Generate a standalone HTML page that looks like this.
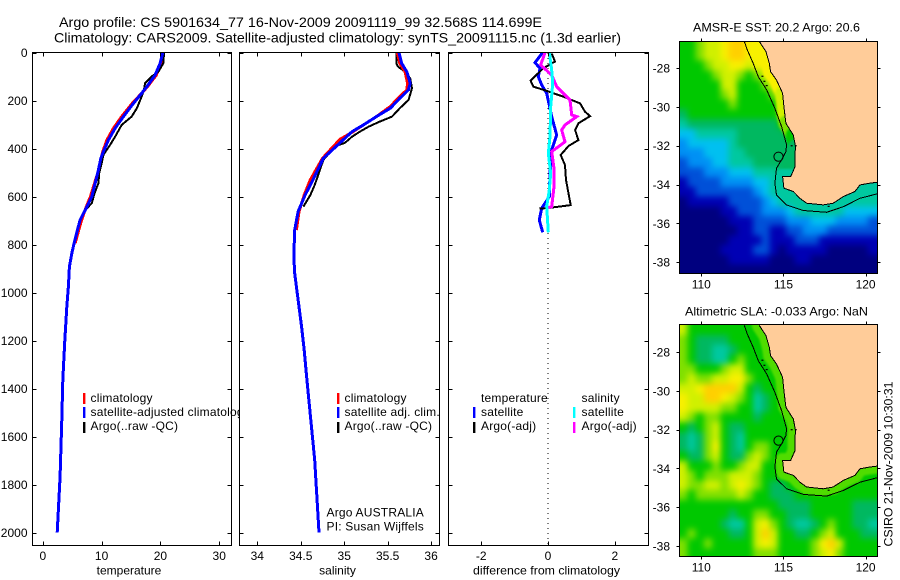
<!DOCTYPE html>
<html lang="en">
<head>
<meta charset="utf-8">
<title>Argo profile CS 5901634_77</title>
<style>
html,body{margin:0;padding:0;background:#fff;}
svg{display:block;}
text{font-family:"Liberation Sans",sans-serif;font-size:12px;fill:#000;}
.legend text{letter-spacing:0.2px;}
</style>
</head>
<body>
<svg id="figure" xmlns="http://www.w3.org/2000/svg" width="900" height="580" viewBox="0 0 900 580">
  <defs>
    <clipPath id="clip-p1"><rect x="32" y="52" width="207" height="493"/></clipPath>
    <clipPath id="clip-m1"><rect x="679.5" y="41.5" width="198" height="232"/></clipPath>
    <clipPath id="clip-m2"><rect x="679.5" y="324.5" width="198" height="232"/></clipPath>
    <filter id="field-smooth" filterUnits="userSpaceOnUse" x="640" y="0" width="260" height="580" color-interpolation-filters="sRGB"><feGaussianBlur stdDeviation="3.2"/></filter>
    <filter id="band-smooth" filterUnits="userSpaceOnUse" x="640" y="0" width="260" height="580" color-interpolation-filters="sRGB"><feGaussianBlur stdDeviation="1"/></filter>
  </defs>
  <text x="59" y="27" style="font-size:14px" textLength="483" lengthAdjust="spacingAndGlyphs">Argo profile: CS 5901634_77 16-Nov-2009 20091119_99 32.568S 114.699E</text>
  <text x="54" y="42.5" style="font-size:14px" textLength="567" lengthAdjust="spacingAndGlyphs">Climatology: CARS2009. Satellite-adjusted climatology: synTS_20091115.nc (1.3d earlier)</text>

  <g id="map-layer"></g>
  <g id="mark-layer"></g>
  <g id="axis-layer"></g>

  <g class="legend" clip-path="url(#clip-p1)">
    <rect x="83" y="393" width="2.4" height="11" fill="#ff0000"/>
    <rect x="83" y="407" width="2.4" height="11" fill="#0000ff"/>
    <rect x="83" y="422" width="2.4" height="11" fill="#000000"/>
    <text x="90.5" y="402">climatology</text>
    <text x="90.5" y="416">satellite-adjusted climatology</text>
    <text x="90.5" y="430">Argo(..raw -QC)</text>
  </g>
  <g class="legend">
    <rect x="337" y="393" width="2.4" height="11" fill="#ff0000"/>
    <rect x="337" y="407" width="2.4" height="11" fill="#0000ff"/>
    <rect x="337" y="422" width="2.4" height="11" fill="#000000"/>
    <text x="344.5" y="402">climatology</text>
    <text x="344.5" y="416">satellite adj. clim.</text>
    <text x="344.5" y="430">Argo(..raw -QC)</text>
    <text x="326.5" y="516.5">Argo AUSTRALIA</text>
    <text x="326.5" y="530.5">PI: Susan Wijffels</text>
  </g>
  <g class="legend">
    <text x="481" y="402">temperature</text>
    <rect x="473" y="407" width="2.4" height="11" fill="#0000ff"/>
    <rect x="473" y="422" width="2.4" height="11" fill="#000000"/>
    <text x="481" y="416">satellite</text>
    <text x="481" y="430">Argo(-adj)</text>
    <text x="581.5" y="402">salinity</text>
    <rect x="573" y="407" width="2.4" height="11" fill="#00ffff"/>
    <rect x="573" y="422" width="2.4" height="11" fill="#ff00ff"/>
    <text x="581.5" y="416">satellite</text>
    <text x="581.5" y="430">Argo(-adj)</text>
  </g>

  <text x="129" y="574.5" text-anchor="middle">temperature</text>
  <text x="337.5" y="574.5" text-anchor="middle">salinity</text>
  <text x="473" y="574.5" textLength="147" lengthAdjust="spacingAndGlyphs">difference from climatology</text>
  <text x="693" y="31.5" textLength="167" lengthAdjust="spacingAndGlyphs">AMSR-E SST: 20.2  Argo: 20.6</text>
  <text x="685" y="315.5" textLength="183" lengthAdjust="spacingAndGlyphs">Altimetric SLA: -0.033  Argo: NaN</text>
  <text transform="translate(892.5,546.5) rotate(-90)" textLength="165" lengthAdjust="spacingAndGlyphs">CSIRO 21-Nov-2009 10:30:31</text>
</svg>

<script>
/* ---------- profile data ---------- */
const tempClimDepth = [0,45,94,142,170,212,267,316,365,413,441,490,545,601,649,698,740,795];
const tempClimValue = [20.5,20.1,19.3,17.8,16.8,15.2,13.4,12.0,10.9,10.2,9.9,9.5,8.8,8.1,7.3,6.6,6.1,5.5];
const tempSatDepth = [0,45,94,142,170,212,267,316,365,413,441,490,545,601,649,698,740,795,837,892,975,1059,1200,1365,1530,1765,2000];
const tempSatValue = [20.4,19.95,19.1,17.7,16.8,15.4,13.7,12.3,11.16,10.3,9.86,9.46,8.9,8.33,7.36,6.34,5.89,5.32,4.93,4.53,4.36,4.08,3.75,3.4,3.23,2.94,2.45];
const tempArgoDepth = [0,45,80,100,128,156,184,232,267,302,351,385,427,462,503,545,587,628,649];
const tempArgoValue = [20.63,20.5,19.66,18.5,17.4,17.2,16.8,16,15.1,13.4,12.3,11.45,10.3,10,9.6,9.46,8.8,8.33,7.5];

const salClimDepth = [0,45,80,128,156,191,225,267,302,337,362,441,531,594,663,740];
const salClimValue = [35.61,35.64,35.70,35.73,35.72,35.62,35.53,35.37,35.22,35.07,34.95,34.75,34.61,34.54,34.48,34.45];
const salSatDepth = [0,45,80,128,156,191,232,267,302,330,441,531,594,663,740,851,920,976,1059,1143,1240,1323,1398,1698,2000];
const salSatValue = [35.63,35.66,35.72,35.76,35.74,35.64,35.53,35.37,35.22,35.09,34.76,34.64,34.55,34.47,34.43,34.42,34.43,34.45,34.48,34.51,34.54,34.56,34.58,34.66,34.71];
const salArgoDepth = [0,45,59,80,108,149,198,232,267,288,309,330,351,376,392,448,490,552,594,642];
const salArgoValue = [35.60,35.60,35.62,35.70,35.76,35.78,35.74,35.64,35.55,35.41,35.28,35.18,35.09,35.01,34.89,34.76,34.72,34.66,34.61,34.53];

const diffTempSatDepth = [0,42,66,101,135,170,219,267,344,406,503,601,649,698,749];
const diffTempSatValue = [-0.16,-0.39,-0.24,-0.29,-0.19,-0.04,0.04,0.11,0.26,0.11,0.06,0.04,-0.19,-0.26,-0.16];
const diffTempArgoDepth = [4,38,66,117,142,160,184,212,247,265,295,323,365,390,427,469,531,636,647,651];
const diffTempArgoValue = [0.11,0.21,-0.14,-0.52,-0.44,-0.04,0.46,0.96,1.11,1.26,0.91,0.81,0.91,0.61,0.38,0.51,0.54,0.68,0.06,-0.26];
const diffSalSatDepth = [0,73,129,226,351,420,503,573,642,749];
const diffSalSatValue = [0.04,0.11,0.14,0.08,0.06,0.01,0.08,0.04,-0.04,0.01];
const diffSalArgoDepth = [0,52,94,142,198,260,267,302,323,372,413,483,559,642,649];
const diffSalArgoValue = [-0.09,-0.22,0.11,0.26,0.66,0.71,0.86,0.51,0.41,0.51,0.11,0.18,0.18,0.11,-0.04];

/* ---------- tick labels ---------- */
const depthTicks = [0,200,400,600,800,1000,1200,1400,1600,1800,2000];
const tempTicks = [0,10,20,30];
const salTicks = [34,34.5,35,35.5,36];
const diffTicks = [-2,0,2];
const lonTicks = [110,115,120];
const latTicks = [28,30,32,34,36,38];

/* ---------- map data: colour level per 0.5 degree cell, north to south ---------- */
const sstLevels = [
[7,7,8,9,9,10,11,11,10,10,10,10,10,10,10,10,10,10,10,10,10,10,10,10],
[7,7,8,9,9,10,11,11,10,10,10,10,10,10,10,10,10,10,10,10,10,10,10,10],
[7,7,7,8,9,9,10,10,9,10,10,9,9,9,9,9,9,9,9,9,9,9,9,9],
[7,7,7,7,8,9,9,8,7,8,9,10,10,10,10,10,10,10,10,10,10,10,10,10],
[7,7,7,7,7,9,9,7,7,7,8,9,9,9,9,9,9,9,9,9,9,9,9,9],
[7,7,7,7,7,8,9,7,7,7,7,8,9,9,9,9,9,9,9,9,9,9,9,9],
[7,7,7,7,7,7,8,7,7,7,7,7,8,9,9,9,9,9,9,9,9,9,9,9],
[6,7,7,7,7,7,7,7,7,7,7,7,8,9,9,9,9,9,9,9,9,9,9,9],
[5,6,6,6,6,6,6,6,6,6,6,6,7,8,8,8,8,8,8,8,8,8,8,8],
[4,4,5,5,5,5,5,6,6,6,6,6,6,7,7,7,7,7,7,7,7,7,7,7],
[3,4,4,4,4,4,5,6,6,6,6,6,6,6,7,7,7,7,7,7,7,7,7,7],
[3,3,3,4,4,4,5,5,6,6,6,6,6,6,6,6,6,6,6,6,6,6,6,6],
[2,3,3,3,4,4,5,5,5,6,6,6,6,6,5,5,5,5,5,5,5,5,5,5],
[2,2,2,3,3,3,4,4,4,5,5,5,6,6,6,6,6,6,6,6,6,6,6,6],
[1,2,2,2,2,3,3,3,3,4,4,5,5,5,5,5,5,5,5,5,5,5,5,5],
[1,1,2,2,2,2,2,2,2,3,4,5,5,5,5,5,5,5,5,5,5,5,5,5],
[0,1,1,1,1,1,2,2,2,2,3,4,5,5,5,5,5,5,5,5,5,5,5,5],
[0,0,0,0,0,1,1,2,2,2,3,3,3,4,5,5,5,5,5,5,4,4,4,4],
[0,0,0,0,0,0,1,1,1,2,2,2,2,3,3,3,4,4,4,3,3,3,3,2],
[0,0,0,0,0,0,0,1,1,2,2,1,1,2,2,3,3,3,2,2,2,2,2,2],
[0,0,0,0,0,0,1,1,1,1,2,1,1,1,2,2,2,1,1,1,1,1,1,1],
[0,0,0,0,0,1,1,1,1,2,2,1,0,1,1,1,1,1,0,0,0,0,0,1],
[0,0,0,0,0,0,1,1,1,1,1,0,0,0,1,1,0,0,0,0,0,0,0,0],
[0,0,0,0,0,0,0,0,0,0,0,0,0,0,0,0,0,0,0,0,0,0,0,0]
];
const slaLevels = [
[9,7,7,7,7,7,7,7,7,7,7,7,7,7,7,7,7,7,7,7,7,7,7,7],
[8,7,6,6,6,6,7,7,7,7,7,7,7,7,7,7,7,7,7,7,7,7,7,7],
[8,7,6,6,5,5,6,7,7,7,7,7,7,7,7,7,7,7,7,7,7,7,7,7],
[8,7,6,6,5,5,7,8,7,7,7,7,7,7,7,7,7,7,7,7,7,7,7,7],
[8,8,7,7,7,8,9,9,7,7,7,7,7,7,7,7,7,7,7,7,7,7,7,7],
[8,9,8,8,9,9,10,10,8,7,7,7,7,7,7,7,7,7,7,7,7,7,7,7],
[9,9,10,11,11,11,11,9,7,6,7,7,7,7,7,7,7,7,7,7,7,7,7,7],
[10,9,9,11,11,10,9,8,7,5,6,7,7,7,7,7,7,7,7,7,7,7,7,7],
[10,9,9,9,9,8,8,7,7,5,6,7,7,7,7,7,7,7,7,7,7,7,7,7],
[9,8,7,8,8,7,7,7,7,6,7,7,7,7,7,7,7,7,7,7,7,7,7,7],
[7,6,7,8,9,7,6,6,7,7,7,7,7,7,7,7,7,7,7,7,7,7,7,7],
[6,5,6,8,9,7,6,5,7,7,7,7,7,7,7,7,7,7,7,7,7,7,7,7],
[6,5,6,8,10,7,6,5,7,8,8,7,7,7,7,7,7,7,7,7,7,7,7,7],
[7,6,6,8,9,7,6,6,8,9,8,7,7,7,7,7,7,7,7,7,7,7,7,7],
[9,7,7,7,8,7,7,8,9,9,7,7,7,7,7,7,7,7,7,7,7,7,7,7],
[9,8,7,8,8,8,9,9,9,8,7,7,7,7,7,7,7,7,7,7,7,7,7,7],
[9,8,8,9,9,8,9,10,9,8,7,6,6,7,7,7,7,7,7,7,7,7,7,7],
[8,7,8,8,8,8,8,9,8,7,7,6,6,6,7,7,7,7,7,7,7,7,7,7],
[7,7,7,7,7,7,7,7,7,7,7,7,6,6,6,6,7,7,7,7,7,6,6,6],
[7,7,7,7,7,7,6,7,7,8,8,7,7,6,6,6,7,7,7,7,7,6,6,6],
[7,7,7,7,7,6,5,5,7,9,10,8,7,6,5,5,6,7,8,7,7,6,6,5],
[7,8,7,7,7,7,6,6,7,9,11,9,7,7,6,6,7,8,9,7,7,7,6,6],
[8,7,7,8,7,7,7,7,7,9,10,9,7,7,7,7,8,10,11,9,7,7,7,7],
[8,7,7,7,7,7,7,7,7,8,8,8,7,7,7,7,8,9,10,8,7,7,7,7]
];
const levelColors = ['#00007f','#0000b4','#0050d8','#0090f4','#00c0f0','#00c8a0','#00b860','#00c800','#80e000','#d0f000','#f8f000','#ffd000','#50dc00'];

const coastLon = [113.53,113.94,114.14,114.22,114.58,114.95,115.03,115.15,115.60,115.74,115.70,115.70,115.44,114.95,115.03,115.60,116.00,116.41,117.42,118.03,118.64,119.35,119.66,120.26,120.71];
const coastLat = [26.63,27.16,27.76,28.19,28.62,29.30,29.99,30.85,31.45,32.05,32.39,33.08,33.59,33.59,34.19,34.36,34.71,34.96,35.05,34.96,34.62,34.36,34.02,33.93,33.88];
/* colour level of the narrow shelf band along each coastline segment */
const sstCoastLevels = [10,10,10,10,10,9,9,8,7,6,6,6,5,5,5,5,5,5,5,5,5,5,5,5];
const slaCoastLevels = [12,12,12,12,12,12,12,12,12,12,12,12,12,12,12,12,12,12,12,12,12,12,12,12];
const isobathLon = [112.62,112.80,113.16,113.47,113.98,114.48,114.89,115.19,115.15,114.89,114.58,114.48,114.58,115.19,116.21,117.63,118.64,119.66,120.71];
const isobathLat = [26.63,27.07,27.76,28.45,29.13,30.08,31.02,31.96,32.31,32.73,33.16,33.93,34.54,35.05,35.34,35.43,35.14,34.71,34.48];
const islandLon = [113.72,113.84,113.98,115.5,117.75,115.75];
const islandLat = [28.42,28.68,28.9,32.0,35.12,32.0];
const floatLon = 114.699;
const floatLat = 32.568;

/* ---------- axis functions ---------- */
const yDepth = d => 52.5 + 0.24 * d;
const xTemp = t => 42.8 + 5.88 * t;
const xSal = s => 257.3 + 86.9 * (s - 34);
const xDiff = v => 548 + 33.4 * v;
const xLon = lon => 701.3 + 16.43 * (lon - 110);
const ySst = lat => 68 + 19.42 * (lat - 28);
const ySla = lat => 352 + 19.4 * (lat - 28);

const NS = 'http://www.w3.org/2000/svg';
const mapLayer = document.getElementById('map-layer');
const markLayer = document.getElementById('mark-layer');
const axisLayer = document.getElementById('axis-layer');

function svgEl(tag, parent, attrs, name) {
  const el = document.createElementNS(NS, tag);
  for (const k in attrs) el.setAttribute(k, attrs[k]);
  
  
  parent.appendChild(el);
  return el;
}
function drawLine(xs, ys, color, width, name, parent) {
  const pts = xs.map((x, i) => x.toFixed(1) + ',' + ys[i].toFixed(1)).join(' ');
  return svgEl('polyline', parent || markLayer, {points: pts, fill: 'none', stroke: color, 'stroke-width': width, 'stroke-linejoin': 'miter', 'shape-rendering': 'crispEdges'}, name);
}
function drawLabel(x, y, label, anchor, name) {
  const t = svgEl('text', axisLayer, {x: x, y: y, 'text-anchor': anchor}, name);
  t.textContent = label;
}
function hline(x1, x2, y, name) {
  svgEl('line', axisLayer, {x1: x1, x2: x2, y1: y, y2: y, stroke: '#000', 'stroke-width': 1, 'shape-rendering': 'crispEdges'}, name);
}
function vline(x, y1, y2, name) {
  svgEl('line', axisLayer, {x1: x, x2: x, y1: y1, y2: y2, stroke: '#000', 'stroke-width': 1, 'shape-rendering': 'crispEdges'}, name);
}

/* ---------- profile panels ---------- */
function drawPanel(left, right, xFn, ticks, prefix, showDepthLabels) {
  const top = 52.5, bottom = 545.5;
  svgEl('rect', axisLayer, {x: left, y: top, width: right - left, height: bottom - top, fill: 'none', stroke: '#000', 'stroke-width': 1.2, 'shape-rendering': 'crispEdges'}, prefix + '-panel-frame');
  depthTicks.forEach(d => {
    hline(left, left + 4, Math.round(yDepth(d)) + 0.5, prefix + '-left-tick');
    hline(right - 4, right, Math.round(yDepth(d)) + 0.5, prefix + '-right-tick');
    if (showDepthLabels) drawLabel(27.5, yDepth(d) + 4.5, String(d), 'end', 'depth-tick-label');
  });
  ticks.forEach(v => {
    const x = Math.round(xFn(v)) + 0.5;
    vline(x, top, top + 4, prefix + '-top-tick');
    vline(x, bottom - 4, bottom, prefix + '-bottom-tick');
    drawLabel(xFn(v), 560, String(v), 'middle', prefix + '-tick-label');
  });
}
drawPanel(32.5, 231.5, xTemp, tempTicks, 'temperature', true);
drawPanel(239.5, 439.5, xSal, salTicks, 'salinity', false);
drawPanel(448.5, 648.5, xDiff, diffTicks, 'difference', false);

drawLine(tempClimValue.map(xTemp), tempClimDepth.map(yDepth), '#ff0000', 3, 'temperature-climatology-line');
drawLine(tempArgoValue.map(xTemp), tempArgoDepth.map(yDepth), '#000000', 2, 'temperature-argo-line');
drawLine(tempSatValue.map(xTemp), tempSatDepth.map(yDepth), '#0000ff', 3, 'temperature-satellite-line');

drawLine(salArgoValue.map(xSal), salArgoDepth.map(yDepth), '#000000', 2, 'salinity-argo-line');
drawLine(salClimValue.map(xSal), salClimDepth.map(yDepth), '#ff0000', 3, 'salinity-climatology-line');
drawLine(salSatValue.map(xSal), salSatDepth.map(yDepth), '#0000ff', 3, 'salinity-satellite-line');

const zeroLine = svgEl('line', markLayer, {x1: xDiff(0), x2: xDiff(0), y1: 53, y2: 545, stroke: '#000', 'stroke-width': 1, 'stroke-dasharray': '1 4'}, 'zero-difference-line');
zeroLine.setAttribute('shape-rendering', 'crispEdges');
drawLine(diffTempSatValue.map(xDiff), diffTempSatDepth.map(yDepth), '#0000ff', 3, 'difference-temperature-satellite-line');
drawLine(diffTempArgoValue.map(xDiff), diffTempArgoDepth.map(yDepth), '#000000', 2, 'difference-temperature-argo-line');
drawLine(diffSalArgoValue.map(xDiff), diffSalArgoDepth.map(yDepth), '#ff00ff', 3, 'difference-salinity-argo-line');
drawLine(diffSalSatValue.map(xDiff), diffSalSatDepth.map(yDepth), '#00ffff', 3, 'difference-salinity-satellite-line');

/* ---------- maps ---------- */
const lon0 = 108.66, lat0 = 26.62, cellStep = 0.5;

function drawMap(levels, coastLevels, yFn, clipId, top, bottom, prefix) {
  const g = svgEl('g', mapLayer, {'clip-path': 'url(#' + clipId + ')'}, prefix + '-map-plot');
  const field = svgEl('g', g, {filter: 'url(#field-smooth)'}, prefix + '-field');
  const lastRow = levels.length - 1;
  levels.forEach((row, r) => {
    const lastCol = row.length - 1;
    row.forEach((level, c) => {
      /* edge cells run past the frame so that smoothing does not fade at the border */
      const x1 = c === 0 ? 650 : xLon(lon0 + c * cellStep);
      const x2 = c === lastCol ? 899 : xLon(lon0 + (c + 1) * cellStep);
      const y1 = r === 0 ? yFn(lat0) - 30 : yFn(lat0 + r * cellStep);
      const y2 = r === lastRow ? yFn(lat0) + 270 : yFn(lat0 + (r + 1) * cellStep);
      svgEl('rect', field, {x: x1.toFixed(1), y: y1.toFixed(1), width: (x2 - x1 + 0.6).toFixed(1), height: (y2 - y1 + 0.6).toFixed(1), fill: levelColors[level], 'shape-rendering': 'crispEdges'}, prefix + '-cell');
    });
  });
  const band = svgEl('g', g, {filter: 'url(#band-smooth)'}, prefix + '-shelf-band');
  coastLevels.forEach((level, i) => {
    svgEl('line', band, {x1: xLon(coastLon[i]), y1: yFn(coastLat[i]), x2: xLon(coastLon[i + 1]), y2: yFn(coastLat[i + 1]), stroke: levelColors[level], 'stroke-width': 15, 'stroke-linecap': 'round'}, prefix + '-shelf-segment');
  });
  const landPts = coastLon.map((lon, i) => xLon(lon).toFixed(1) + ',' + yFn(coastLat[i]).toFixed(1));
  landPts.push(xLon(121).toFixed(1) + ',' + yFn(coastLat[coastLat.length - 1]).toFixed(1));
  landPts.push(xLon(121).toFixed(1) + ',' + yFn(26).toFixed(1));
  landPts.push(xLon(coastLon[0]).toFixed(1) + ',' + yFn(26).toFixed(1));
  svgEl('polygon', g, {points: landPts.join(' '), fill: '#ffcc99', stroke: 'none'}, prefix + '-land');
  drawLine(coastLon.map(xLon), coastLat.map(yFn), '#000', 1, prefix + '-coastline', g);
  drawLine(isobathLon.map(xLon), isobathLat.map(yFn), '#000', 1, prefix + '-isobath', g);
  islandLon.forEach((lon, i) => {
    svgEl('rect', g, {x: xLon(lon) - 1, y: yFn(islandLat[i]) - 0.5, width: 2, height: 1.2, fill: '#000'}, prefix + '-island');
  });
  svgEl('circle', g, {cx: xLon(floatLon), cy: yFn(floatLat), r: 4.6, fill: 'none', stroke: '#000', 'stroke-width': 1}, prefix + '-float-position');
  const left = 679.5, right = 877.5;
  svgEl('rect', axisLayer, {x: left, y: top, width: right - left, height: bottom - top, fill: 'none', stroke: '#000', 'stroke-width': 1, 'shape-rendering': 'crispEdges'}, prefix + '-map-frame');
  lonTicks.forEach(lon => {
    const x = Math.round(xLon(lon)) + 0.5;
    vline(x, top - 3, top, prefix + '-top-tick');
    vline(x, bottom, bottom + 3, prefix + '-bottom-tick');
    drawLabel(xLon(lon), bottom + 15, String(lon), 'middle', prefix + '-longitude-label');
  });
  latTicks.forEach(lat => {
    const y = Math.round(yFn(lat)) + 0.5;
    hline(left - 3, left, y, prefix + '-left-tick');
    hline(right, right + 3, y, prefix + '-right-tick');
    drawLabel(670, yFn(lat) + 4.5, '-' + lat, 'end', prefix + '-latitude-label');
  });
}
drawMap(sstLevels, sstCoastLevels, ySst, 'clip-m1', 41.5, 273.5, 'sst');
drawMap(slaLevels, slaCoastLevels, ySla, 'clip-m2', 324.5, 556.5, 'sla');
</script>
</body>
</html>
